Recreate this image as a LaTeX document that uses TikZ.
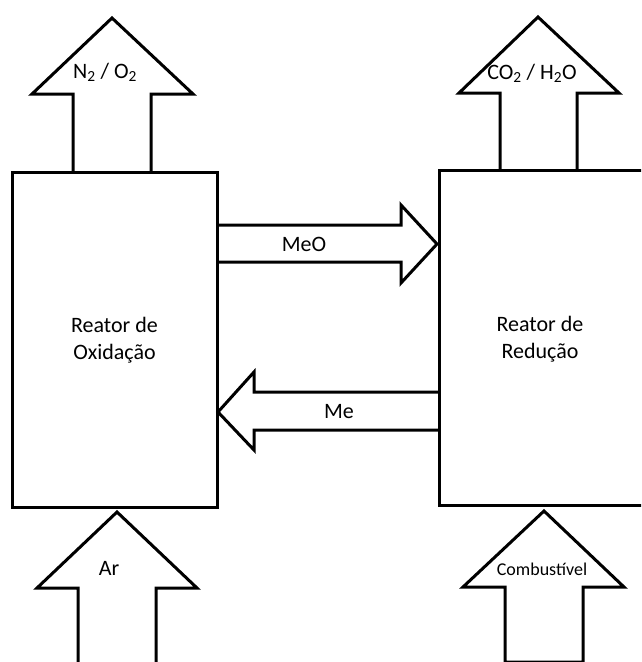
\documentclass[tikz,border=0pt]{standalone}
\usepackage{fontspec}
\setmainfont{Carlito}
\begin{document}
\begin{tikzpicture}[x=1pt,y=-1pt,
  outl/.style={draw=black,line width=3pt,line join=miter},
  lbl/.style={inner sep=0pt,font=\fontsize{22}{27}\selectfont,align=center},
  smalllbl/.style={inner sep=0pt,font=\fontsize{18}{22}\selectfont}]
\useasboundingbox (0,0) rectangle (641,662);
\clip (0,0) rectangle (641,662);
% boxes
\draw[outl] (12,172) rectangle (217,507);
\draw[outl] (439,170) rectangle (650,505);
% top-left arrow N2/O2
\draw[outl] (73,172) -- (73,94) -- (32,94) -- (112,18) -- (193,94) -- (151,94) -- (151,172);
% top-right arrow CO2/H2O
\draw[outl] (500,170) -- (500,93) -- (459,93) -- (538,17) -- (619,93) -- (577,93) -- (577,170);
% MeO arrow
\draw[outl] (217,225) -- (401,225) -- (401,205) -- (437,244) -- (401,283) -- (401,262) -- (217,262);
% Me arrow
\draw[outl] (439,392) -- (254,392) -- (254,372) -- (218,412) -- (254,450) -- (254,430) -- (439,430);
% bottom-left arrow Ar
\draw[outl] (78,680) -- (78,588) -- (37,588) -- (117,512) -- (197,588) -- (156,588) -- (156,680);
% bottom-right arrow Combustivel
\draw[outl] (505,662) -- (505,587) -- (463,587) -- (544,511) -- (624,587) -- (583,587) -- (583,662) -- cycle;
% labels
\node[lbl] (ox) at (114.5,340) {Reator de\\Oxidação};
\node[lbl] (re) at (540,339) {Reator de\\Redução};
\node[lbl] (meo) at (304,244) {MeO};
\node[lbl] (me) at (339,412) {Me};
\node[lbl,anchor=base] (no) at (105,78) {N\textsubscript{2} / O\textsubscript{2}};
\node[lbl,anchor=base] (co) at (532,79) {CO\textsubscript{2} / H\textsubscript{2}O};
\node[lbl,anchor=base] (ar) at (109,575) {Ar};
\node[smalllbl,anchor=base] (comb) at (542,575) {Combustível};
\end{tikzpicture}
\end{document}
